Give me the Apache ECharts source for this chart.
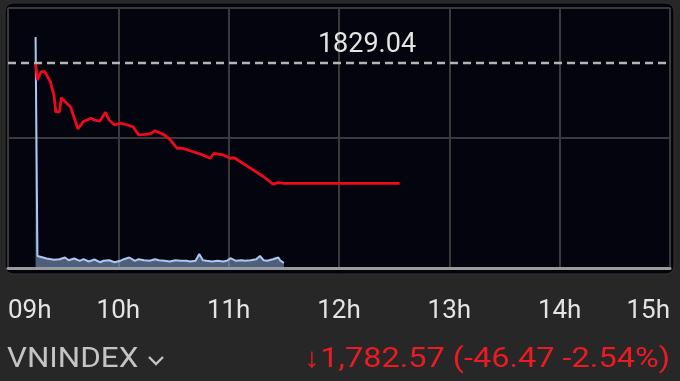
<!DOCTYPE html>
<html>
<head>
<meta charset="utf-8">
<script src="https://cdn.jsdelivr.net/npm/echarts@6/dist/echarts.min.js"></script>
<style>
html,body{margin:0;padding:0;background:#272727;}
#c{width:680px;height:381px;}
</style>
</head>
<body>
<div id="c"></div>
<script>
// Tick labels (hours)
const hourLabels = ['09h','10h','11h','12h','13h','14h','15h'];
// Price line (VNINDEX) — time as "HH:MM"
const priceTimes = ['09:15','09:16','09:18','09:20','09:23','09:25','09:26','09:28','09:29','09:32','09:34','09:38','09:41','09:45','09:47','09:50','09:53','09:55','09:58','10:01','10:05','10:08','10:11','10:15','10:18','10:20','10:25','10:28','10:32','10:35','10:39','10:45','10:50','10:52','10:57','11:01','11:03','11:12','11:19','11:24','11:27','11:30','12:33'];
const priceValues = [1829.04,1822.3,1825.5,1825.5,1821.7,1816.5,1810.1,1810.1,1815.5,1813.3,1812.0,1803.5,1806.3,1807.6,1806.9,1806.5,1809.9,1806.9,1805.0,1805.7,1805.0,1804.3,1801.2,1801.4,1801.8,1802.8,1801.2,1799.5,1796.0,1796.0,1795.1,1793.7,1792.2,1794.1,1793.5,1792.2,1792.4,1788.3,1785.1,1782.3,1782.8,1782.57,1782.57];
const refPrice = 1829.04;
// Volume
const volTimes = ['09:15','09:16','09:18','09:21','09:25','09:28','09:31','09:33','09:36','09:39','09:41','09:44','09:47','09:50','09:52','09:55','09:58','10:01','10:03','10:06','10:09','10:11','10:14','10:17','10:20','10:22','10:25','10:28','10:31','10:34','10:37','10:39','10:42','10:44','10:46','10:48','10:51','10:54','10:57','10:59','11:01','11:04','11:07','11:09','11:12','11:15','11:17','11:19','11:21','11:24','11:27','11:28','11:30'];
const volValues = [2310,120,110,95,82,88,105,78,95,72,88,65,85,58,72,78,58,72,88,105,72,88,78,72,88,78,72,65,78,72,72,65,72,140,78,72,65,72,65,72,98,72,78,72,78,88,120,78,72,88,105,78,50];
// Bottom texts
const indexName = 'VNINDEX';
const changeText = '↓1,782.57 (-46.47 -2.54%)';

function toMin(s){const [h,m]=s.split(':').map(Number);return h*60+m;}
const priceData = priceTimes.map((t,i)=>[toMin(t),priceValues[i]]);
const volData = volTimes.map((t,i)=>[toMin(t),volValues[i]]);

const chart = echarts.init(document.getElementById('c'));
const font = 'Roboto, "Noto Sans", sans-serif';
chart.setOption({
  backgroundColor:'#272727',
  animation:false,
  graphic:[
    {type:'rect',z:-10,shape:{x:5,y:3,width:669,height:271,r:8},style:{fill:'#04040f',stroke:'#333',lineWidth:1}},
    {type:'text',x:7,y:360,scaleX:1.12,style:{text:indexName,font:'28px '+font,fill:'#c4c4c4',textVerticalAlign:'middle'}},
    {type:'polyline',shape:{points:[[149,357],[156,364],[163,357]]},style:{stroke:'#c4c4c4',lineWidth:2.4,fill:null}},
    {type:'text',x:670,y:360,scaleX:1.16,style:{text:changeText,font:'28px '+font,fill:'#ec1b23',textAlign:'right',textVerticalAlign:'middle'}}
  ],
  grid:{left:8,right:10,top:8,bottom:113},
  xAxis:{
    type:'value',min:540,max:900,interval:60,
    axisLine:{show:true,lineStyle:{color:'#9a9a9a',width:3}},
    axisTick:{show:false},
    splitLine:{show:true,lineStyle:{color:'#3a3a3a',width:2}},
    axisLabel:{
      color:'#e4e4e4',fontSize:26,fontFamily:font,margin:30,
      alignMinLabel:'left',alignMaxLabel:'right',
      formatter:v=>hourLabels[Math.round((v-540)/60)]
    }
  },
  yAxis:[
    {type:'value',min:1750,max:1850,interval:50,
     axisLine:{show:false},axisTick:{show:false},axisLabel:{show:false},
     splitLine:{show:true,lineStyle:{color:'#3a3a3a',width:2}}},
    {type:'value',min:0,max:2600,show:false,splitLine:{show:false}}
  ],
  series:[
    {type:'line',yAxisIndex:1,data:volData,symbol:'none',
     lineStyle:{color:'#a9c8f2',width:2},
     areaStyle:{color:'rgba(140,165,205,0.8)'},z:2},
    {type:'line',yAxisIndex:0,data:priceData,symbol:'none',
     lineStyle:{color:'#ee0a1c',width:2.8},z:4,
     markLine:{
       silent:true,symbol:'none',
       lineStyle:{color:'#b4b4b4',type:[8,5],width:2.4},
       label:{show:true,position:'insideMiddleTop',distance:4,offset:[28,0],
              formatter:refPrice.toFixed(2),color:'#e4e4e4',fontSize:27,fontFamily:font},
       data:[{yAxis:refPrice}]
     }}
  ]
});
</script>
</body>
</html>
